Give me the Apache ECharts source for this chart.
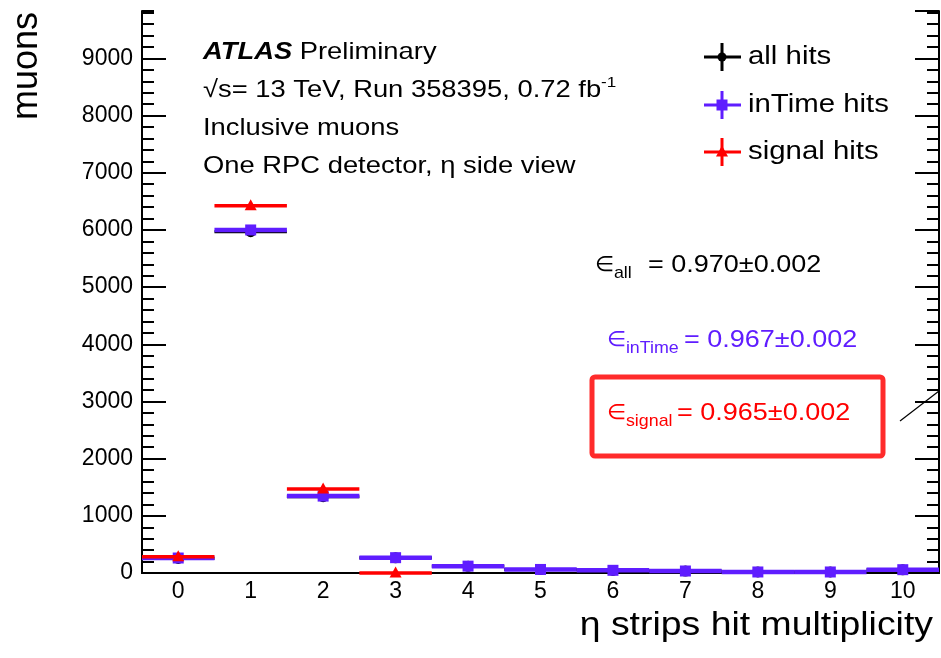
<!DOCTYPE html>
<html>
<head>
<meta charset="utf-8">
<script src="https://cdn.jsdelivr.net/npm/echarts@6/dist/echarts.min.js"></script>
<style>
  html, body { margin: 0; padding: 0; background: #fff; }
  #chart { width: 941px; height: 658px; }
</style>
</head>
<body>
<div id="chart"></div>
<script>
// Strip multiplicity bins
const categories = ['0', '1', '2', '3', '4', '5', '6', '7', '8', '9', '10'];
// Muon counts per bin
const allHits    = [255, 5970, 1335, 265, 118, 60, 45, 33, 18, 18, 55];
const inTimeHits = [262, 6000, 1345, 268, 120, 62, 47, 35, 18, 18, 58];
const signalHits = [285, 6425, 1470, 0, null, null, null, null, null, null, null];

const seriesNames = ['all hits', 'inTime hits', 'signal hits'];
const effLabels = ['all', 'inTime', 'signal'];
const effValues = ['0.970±0.002', '0.967±0.002', '0.965±0.002'];

const yMax = 9830;
const yMajor = 1000;
const yMinor = 200;

const FONT = '"Liberation Sans", Arial, Helvetica, sans-serif';
const BLACK = '#000000';
const BLUE = '#5f1dff';
const RED = '#ff0000';
const colors = [BLACK, BLUE, RED];

const GRID = { left: 142, top: 11, width: 797, height: 562 };

function markerShape(kind, cx, cy, color) {
  if (kind === 'circle') {
    return { type: 'circle', shape: { cx: cx, cy: cy, r: 5.5 }, style: { fill: color } };
  }
  if (kind === 'square') {
    return { type: 'rect', shape: { x: cx - 5.5, y: cy - 5.5, width: 11, height: 11 }, style: { fill: color } };
  }
  return {
    type: 'polygon',
    shape: { points: [[cx, cy - 6.5], [cx - 6, cy + 4.5], [cx + 6, cy + 4.5]] },
    style: { fill: color }
  };
}

function binRenderer(kind, color, lineWidth) {
  return function (params, api) {
    const c = api.coord([api.value(0), api.value(1)]);
    const w = api.size([1, 0])[0];
    return {
      type: 'group',
      children: [
        { type: 'line', shape: { x1: c[0] - w / 2, y1: c[1], x2: c[0] + w / 2, y2: c[1] },
          style: { stroke: color, lineWidth: lineWidth } },
        markerShape(kind, c[0], c[1], color)
      ]
    };
  };
}

function toPoints(values) {
  const pts = [];
  values.forEach(function (v, i) { if (v !== null) pts.push([i, v]); });
  return pts;
}

const axisLineStyle = { color: BLACK, width: 2 };

// Legend entries (cross-shaped error bar symbols)
const legendYs = [57, 105, 152];
const legendKinds = ['circle', 'square', 'triangle'];
const legendGraphics = [];
seriesNames.forEach(function (name, i) {
  const cx = 722, cy = legendYs[i];
  legendGraphics.push({ type: 'line', shape: { x1: 704, y1: cy, x2: 741, y2: cy }, style: { stroke: colors[i], lineWidth: 3 } });
  legendGraphics.push({ type: 'line', shape: { x1: cx, y1: cy - 14, x2: cx, y2: cy + 14 }, style: { stroke: colors[i], lineWidth: 3 } });
  const m = markerShape(legendKinds[i], cx, cy, colors[i]);
  if (m.type === 'circle') m.shape.r = 4.5;
  legendGraphics.push(m);
  legendGraphics.push({
    type: 'text', x: 748, y: cy, scaleX: 1.13,
    style: { text: name, fontSize: 26, fontFamily: FONT, fill: BLACK, align: 'left', verticalAlign: 'middle' }
  });
});

// Efficiency annotations: symbol with subscript, then the value
const effXs = [595, 607, 607];
const effEqXs = [648, 684, 677];
const effYs = [265, 340, 413];
const effGraphics = [];
effLabels.forEach(function (lab, i) {
  effGraphics.push({
    type: 'text', x: effXs[i], y: effYs[i], scaleX: 1.05,
    style: {
      text: '{e|∈}{s|' + lab + '}',
      fontFamily: FONT, fill: colors[i], align: 'left', verticalAlign: 'middle',
      rich: {
        e: { fontSize: 21, lineHeight: 34, fontFamily: FONT, fill: colors[i] },
        s: { fontSize: 17, lineHeight: 17, verticalAlign: 'bottom', fontFamily: FONT, fill: colors[i] }
      }
    }
  });
  effGraphics.push({
    type: 'text', x: effEqXs[i], y: effYs[i], scaleX: 1.125,
    style: { text: '= ' + effValues[i], fontSize: 24, fontFamily: FONT, fill: colors[i],
             align: 'left', verticalAlign: 'middle' }
  });
});

const infoText = [
  { y: 52, style: { text: '{b|ATLAS}{n| Preliminary}', rich: {
      b: { fontSize: 24, fontWeight: 'bold', fontStyle: 'italic', fontFamily: FONT, fill: BLACK },
      n: { fontSize: 24, fontFamily: FONT, fill: BLACK } } } },
  { y: 90, style: { text: '{n|√s= 13 TeV, Run 358395, 0.72 fb}{p|-1}', rich: {
      n: { fontSize: 24, lineHeight: 30, fontFamily: FONT, fill: BLACK },
      p: { fontSize: 15, lineHeight: 15, verticalAlign: 'top', fontFamily: FONT, fill: BLACK } } } },
  { y: 128, style: { text: 'Inclusive muons', fontSize: 24 } },
  { y: 166, style: { text: 'One RPC detector, η side view', fontSize: 24 } }
].map(function (t) {
  return {
    type: 'text', x: 203, y: t.y, scaleX: 1.14,
    style: Object.assign({ fontFamily: FONT, fill: BLACK, align: 'left', verticalAlign: 'middle' }, t.style)
  };
});

const chart = echarts.init(document.getElementById('chart'), null, { renderer: 'canvas' });

chart.setOption({
  backgroundColor: '#ffffff',
  animation: false,
  grid: [
    Object.assign({ containLabel: false }, GRID),
    Object.assign({ containLabel: false }, GRID)
  ],
  xAxis: [
    {
      type: 'category', gridIndex: 0, position: 'bottom', data: categories, boundaryGap: true,
      axisLine: { lineStyle: axisLineStyle },
      axisTick: { alignWithLabel: true, inside: true, length: 15, lineStyle: { color: BLACK, width: 2 } },
      axisLabel: { color: BLACK, fontSize: 23, fontFamily: FONT, margin: 7 },
      splitLine: { show: false }
    },
    {
      type: 'category', gridIndex: 0, position: 'top', data: categories, boundaryGap: true,
      axisLine: { lineStyle: axisLineStyle },
      axisTick: { alignWithLabel: true, inside: true, length: 15, lineStyle: { color: BLACK, width: 2 } },
      axisLabel: { show: false },
      splitLine: { show: false }
    },
    { type: 'category', gridIndex: 1, data: categories, show: false }
  ],
  yAxis: [
    {
      type: 'value', gridIndex: 0, position: 'left', min: 0, max: yMax, interval: yMajor,
      axisLine: { show: true, lineStyle: axisLineStyle },
      axisTick: { show: true, inside: true, length: 24, lineStyle: { color: BLACK, width: 2 } },
      axisLabel: { color: BLACK, fontSize: 23, fontFamily: FONT, margin: 9, showMaxLabel: false,
                   formatter: function (v) { return String(v); } },
      splitLine: { show: false }
    },
    {
      type: 'value', gridIndex: 0, position: 'right', min: 0, max: yMax, interval: yMajor,
      axisLine: { show: true, lineStyle: axisLineStyle },
      axisTick: { show: true, inside: true, length: 24, lineStyle: { color: BLACK, width: 2 } },
      axisLabel: { show: false },
      splitLine: { show: false }
    },
    {
      type: 'value', gridIndex: 1, position: 'left', min: 0, max: yMax, interval: yMinor,
      axisLine: { show: false },
      axisTick: { show: true, inside: true, length: 12, lineStyle: { color: BLACK, width: 2 } },
      axisLabel: { show: false },
      splitLine: { show: false }
    },
    {
      type: 'value', gridIndex: 1, position: 'right', min: 0, max: yMax, interval: yMinor,
      axisLine: { show: false },
      axisTick: { show: true, inside: true, length: 12, lineStyle: { color: BLACK, width: 2 } },
      axisLabel: { show: false },
      splitLine: { show: false }
    }
  ],
  series: [
    { name: seriesNames[0], type: 'custom', xAxisIndex: 0, yAxisIndex: 0, z: 3,
      renderItem: binRenderer('circle', BLACK, 3), encode: { x: 0, y: 1 }, data: toPoints(allHits) },
    { name: seriesNames[1], type: 'custom', xAxisIndex: 0, yAxisIndex: 0, z: 4,
      renderItem: binRenderer('square', BLUE, 4.5), encode: { x: 0, y: 1 }, data: toPoints(inTimeHits) },
    { name: seriesNames[2], type: 'custom', xAxisIndex: 0, yAxisIndex: 0, z: 5,
      renderItem: binRenderer('triangle', RED, 3.5), encode: { x: 0, y: 1 }, data: toPoints(signalHits) }
  ],
  graphic: [].concat(
    infoText,
    legendGraphics,
    effGraphics,
    [
      { type: 'rect', shape: { x: 592, y: 377, width: 291, height: 79, r: 3 },
        style: { fill: null, stroke: '#ff2b2b', lineWidth: 5 } },
      { type: 'line', shape: { x1: 900, y1: 421, x2: 939, y2: 391 },
        style: { stroke: BLACK, lineWidth: 1.2 } },
      { type: 'text', x: 27, y: 12, rotation: Math.PI / 2,
        style: { text: 'muons', fontSize: 36, fontFamily: FONT, fill: BLACK, align: 'right', verticalAlign: 'middle' } },
      { type: 'text', x: 933, y: 626, scaleX: 1.1,
        style: { text: 'η strips hit multiplicity', fontSize: 34, fontFamily: FONT, fill: BLACK, align: 'right', verticalAlign: 'middle' } }
    ]
  )
});
</script>
</body>
</html>
